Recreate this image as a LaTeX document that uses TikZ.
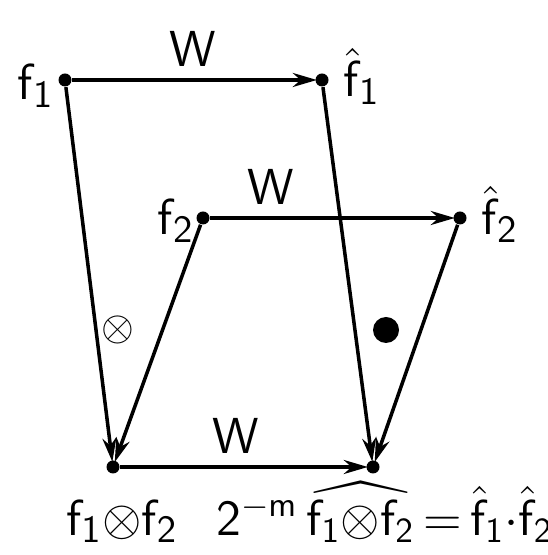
\documentclass[tikz,border=0pt]{standalone}
\usepackage{amsmath,amssymb}
\usepackage{tikz}
\usetikzlibrary{arrows.meta}

\tikzset{
  pt/.style={circle, fill, inner sep=0pt, minimum size=0.13cm},
  lab/.style={font=\fontsize{15}{17}\selectfont, inner sep=1pt},
  arr/.style={line width=1pt, -{Stealth[length=0.24cm, width=0.14cm]}, shorten >=-0.02cm}
}

\begin{document}
\begin{tikzpicture}[x=1cm, y=1cm]
\useasboundingbox (0,0) rectangle (5.47,5.55);
\node[pt] (f1) at (0.65,4.75) {};
\node[pt] (h1) at (3.22,4.75) {};
\node[pt] (f2) at (2.03,3.37) {};
\node[pt] (h2) at (4.60,3.37) {};
\node[pt] (c) at (1.13,0.88) {};
\node[pt] (r) at (3.73,0.88) {};
\node[lab, anchor=base] at (0.36,4.55) {$\mathsf{f}_{\mathsf{1}}$};
\node[lab, anchor=base] at (3.62,4.58) {$\hat{\mathsf{f}}_{\mathsf{1}}$};
\node[lab, anchor=base] at (1.76,3.20) {$\mathsf{f}_{\mathsf{2}}$};
\node[lab, anchor=base] at (5.00,3.20) {$\hat{\mathsf{f}}_{\mathsf{2}}$};
\node[lab, anchor=base] at (1.22,0.20) {$\mathsf{f}_{\mathsf{1}}{\otimes}\mathsf{f}_{\mathsf{2}}$};
\node[lab, anchor=base west, font=\fontsize{14}{16}\selectfont] at (2.12,0.20)
  {$\mathsf{2}^{-\mathsf{m}}\,\widehat{\mathsf{f}_{\mathsf{1}}{\otimes}\mathsf{f}_{\mathsf{2}}}\,{=}\,\hat{\mathsf{f}}_{\mathsf{1}}{\cdot}\hat{\mathsf{f}}_{\mathsf{2}}$};
\draw[arr] (f1) -- node[lab, above=0.08cm] {$\mathsf{W}$} (h1);
\draw[arr] (f2) -- node[lab, above=0.08cm, pos=0.25] {$\mathsf{W}$} (h2);
\draw[arr] (c) -- node[lab, above=0.08cm, pos=0.47] {$\mathsf{W}$} (r);
\draw[arr] (f1) -- (c);
\draw[arr] (f2) -- (c);
\draw[arr] (h1) -- (r);
\draw[arr] (h2) -- (r);
\node[font=\large] (tens) at (1.18,2.25) {$\otimes$};
\node[circle, fill, inner sep=0pt, minimum size=0.26cm] (dot) at (3.86,2.25) {};
\end{tikzpicture}
\end{document}
